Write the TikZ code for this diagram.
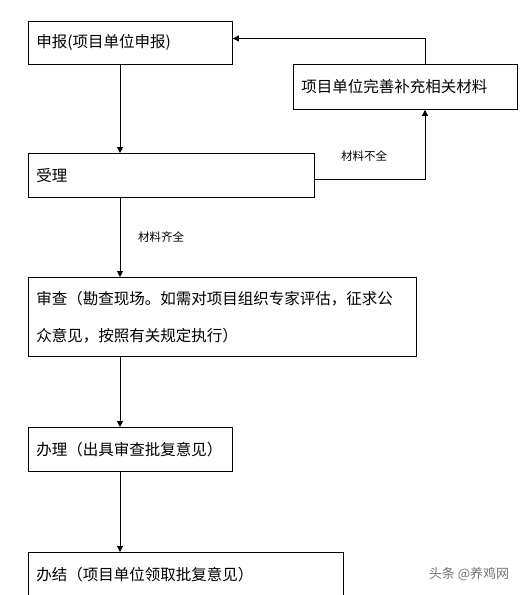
\documentclass[tikz,border=0pt]{standalone}
\usepackage{fontspec}
\setmainfont{Noto Sans CJK SC}
\usetikzlibrary{arrows.meta}
\begin{document}
\begin{tikzpicture}[x=1pt,y=-1pt,
  box/.style={draw, line width=0.9pt, anchor=north west, inner xsep=8pt, inner ysep=0pt,
    align=left, font=\fontsize{15.5}{37}\selectfont},
  arr/.style={line width=0.9pt, -{Triangle[length=6pt,width=6pt]}},
  lbl/.style={font=\fontsize{11.5}{14}\selectfont, inner sep=0pt},
  wm/.style={font=\fontsize{13}{15}\selectfont, text=black!55, inner sep=0pt}]
\clip (0,0) rectangle (524,595);
\fill[white] (0,0) rectangle (524,595);
\node[box, text width=188pt, minimum height=43pt] (sb) at (28,21) {申报(项目单位申报)};
\node[box, text width=208pt, minimum height=45pt] (ws) at (293,64) {项目单位完善补充相关材料};
\node[box, text width=270pt, minimum height=44pt] (sl) at (28,153) {受理};
\node[box, text width=372pt, minimum height=79pt] (sc) at (28,277) {审查（勘查现场。如需对项目组织专家评估，征求公\\众意见，按照有关规定执行）};
\node[box, text width=188pt, minimum height=44pt] (bl) at (28,427) {办理（出具审查批复意见）};
\node[box, text width=299pt, minimum height=44pt] (bj) at (28,552) {办结（项目单位领取批复意见）};
\node[lbl] (bq) at (364,156) {材料不全};
\node[lbl] (qq) at (161,237) {材料齐全};
\node[wm] (wmk) at (469,574) {头条 @养鸡网};
\draw[arr] ([xshift=92pt]sb.south west) -- ([xshift=92pt]sl.north west);
\draw[arr] ([yshift=-4pt]sl.east) -| ([xshift=132pt]ws.south west);
\draw[arr] ([xshift=132pt]ws.north west) |- ([yshift=4.5pt]sb.east);
\draw[arr] ([xshift=92pt]sl.south west) -- ([xshift=92pt]sc.north west);
\draw[arr] ([xshift=92pt]sc.south west) -- ([xshift=92pt]bl.north west);
\draw[arr] ([xshift=92pt]bl.south west) -- ([xshift=92pt]bj.north west);
\end{tikzpicture}
\end{document}
